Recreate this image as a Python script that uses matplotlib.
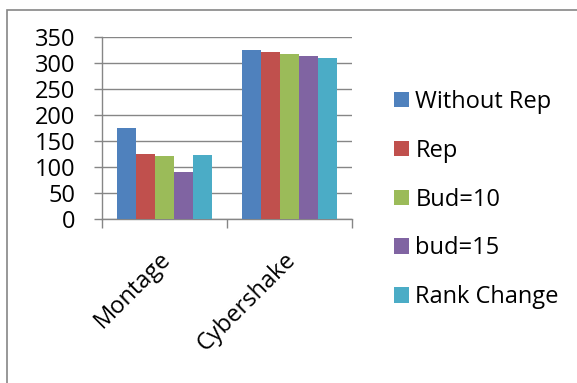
import matplotlib
matplotlib.use("Agg")
import matplotlib.pyplot as plt
from matplotlib.patches import Rectangle
from matplotlib.transforms import ScaledTranslation
import numpy as np

categories = ["Montage", "Cybershake"]
series_names = ["Without Rep", "Rep", "Bud=10", "bud=15", "Rank Change"]
without_rep = [175, 325]
rep = [125, 321]
bud10 = [122, 317]
bud15 = [90, 314]
rank_change = [123, 310]
yticks = [0, 50, 100, 150, 200, 250, 300, 350]

series = [without_rep, rep, bud10, bud15, rank_change]
colors = ["#4F81BD", "#C0504D", "#9BBB59", "#8064A2", "#4BACC6"]

plt.rcParams['font.family'] = ['Open Sans', 'DejaVu Sans']
FS = 17
W, H = 577, 383
fig = plt.figure(figsize=(W / 100, H / 100), dpi=100)
fig.patch.set_facecolor("white")

ax = fig.add_axes([102 / W, 1 - 219 / H, (352 - 102) / W, (219 - 37) / H])
gray = "#868686"
x = np.arange(len(categories))
bw = 0.152
handles = []
for i, (vals, c, name) in enumerate(zip(series, colors, series_names)):
    b = ax.bar(x + (i - 2) * bw, vals, width=bw, color=c, label=name, zorder=3, linewidth=0)
    handles.append(b)

ax.set_xlim(-0.5, 1.5)
ax.set_ylim(0, 350)
ax.set_yticks(yticks)
ax.set_yticklabels([str(v) for v in yticks], fontsize=FS)
ax.yaxis.grid(True, color=gray, linewidth=1.0, zorder=0)
ax.set_axisbelow(True)
for s in ["top", "right"]:
    ax.spines[s].set_visible(False)
for s in ["left", "bottom"]:
    ax.spines[s].set_color(gray)
    ax.spines[s].set_linewidth(1.0)
ax.tick_params(axis="y", direction="out", length=6, width=1.0, color=gray, pad=13)
ax.set_xticks(x)
ax.set_xticklabels(categories, fontsize=FS, rotation=45, ha="right", va="center",
                   rotation_mode="anchor")
ax.tick_params(axis="x", which="major", length=0, pad=0)
ax.set_xticks([-0.5, 0.5, 1.5], minor=True)
ax.tick_params(axis="x", which="minor", direction="out", length=6.5, width=1.0, color=gray)
off = ScaledTranslation(3 / 100, -37 / 100, fig.dpi_scale_trans)
for lab in ax.get_xticklabels():
    lab.set_transform(lab.get_transform() + off)

fig.legend(handles=handles, labels=series_names, loc="upper left",
           bbox_to_anchor=(394 / W, 1 - 90 / H), frameon=False, fontsize=FS,
           handlelength=0.62, handleheight=0.62, handletextpad=0.28,
           labelspacing=1.05, borderpad=0, borderaxespad=0)

fig.add_artist(Rectangle((6.5 / W, -0.1), 1.2, 1 - 9.5 / H + 0.1, transform=fig.transFigure,
                         fill=False, edgecolor=gray, linewidth=1.2))

fig.savefig("out.png", dpi=100)
